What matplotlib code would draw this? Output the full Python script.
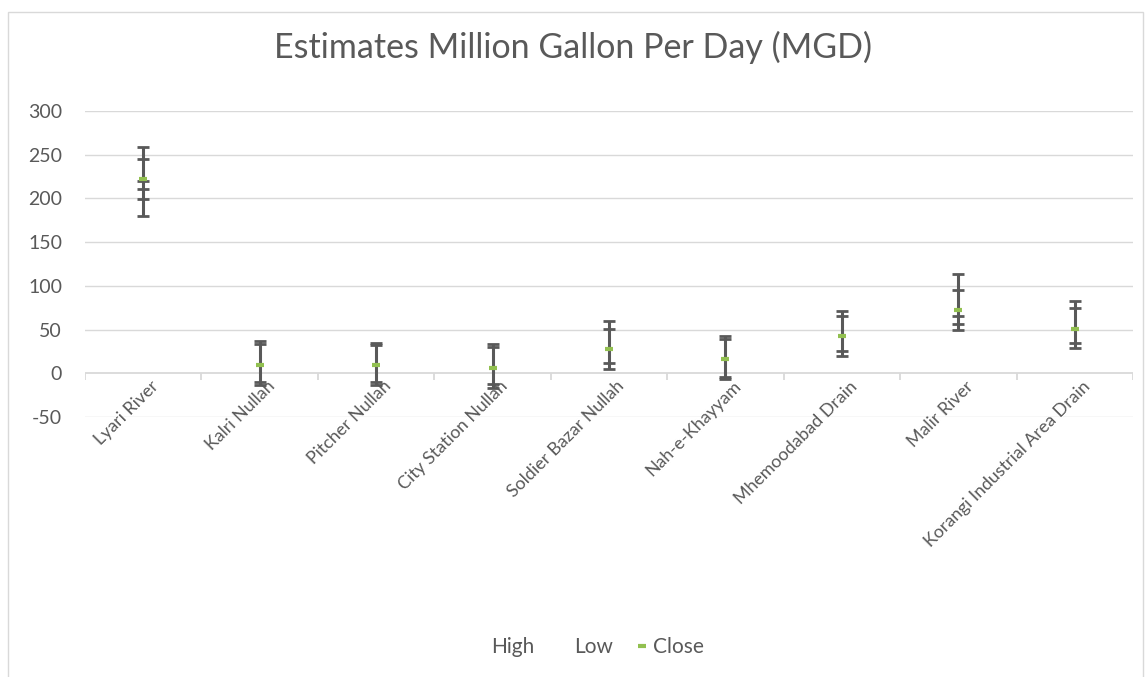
import numpy as np
import matplotlib
matplotlib.use("Agg")
import matplotlib.pyplot as plt
from matplotlib.lines import Line2D
from matplotlib.patches import Rectangle

plt.rcParams["font.family"] = ["Lato", "DejaVu Sans"]

categories = ["Lyari River", "Kalri Nullah", "Pitcher Nullah", "City Station Nullah",
              "Soldier Bazar Nullah", "Nah-e-Khayyam", "Mhemoodabad Drain",
              "Malir River", "Korangi Industrial Area Drain"]
close = [222, 10, 10, 6.5, 27.5, 16.5, 42.5, 72.5, 51]
# error-bar cap levels (high/low/close error bars)
caps = [
    [259, 245, 220, 211, 199, 180],
    [37, 33, -10, -13],
    [35, 32, -10, -13],
    [33, 29.5, -12.5, -16.5],
    [59.5, 50.5, 12, 4.5],
    [42.5, 39, -4, -6.5],
    [71.5, 65.5, 25.5, 19.5],
    [113, 95.5, 66, 56.5, 49.5],
    [82.5, 74.5, 35, 28.5],
]
yticks = [-50, 0, 50, 100, 150, 200, 250, 300]

TXT = "#595959"
GRID = "#d9d9d9"
BAR = "#595959"
GREEN = "#92C050"

fig = plt.figure(figsize=(11.47, 6.77), dpi=100)
fig.patches.append(Rectangle((8 / 1147, -0.01), 1135 / 1147, 1 - 12 / 677 + 0.01,
                             transform=fig.transFigure, fill=False,
                             edgecolor=GRID, lw=1.0))
ax = fig.add_axes([85 / 1147, 1 - 417 / 677, (1133 - 85) / 1147, (417 - 111) / 677])

x = np.arange(len(categories))
for xi, cl in zip(x, caps):
    ax.vlines(xi, min(cl), max(cl), color=BAR, lw=2.2, zorder=3)
    ax.hlines(cl, xi - 0.052, xi + 0.052, color=BAR, lw=2.0, zorder=3)
ax.plot(x, close, ls="none", marker="_", ms=5.5, mew=3, color=GREEN, zorder=4)

ax.set_xlim(-0.5, len(categories) - 0.5)
ax.set_ylim(-50, 300)
ax.set_yticks(yticks)
ax.set_yticklabels([str(t) for t in yticks], fontsize=14, color=TXT)
ax.tick_params(axis="y", length=0, pad=16.5)
ax.set_xticks([])
for s in ax.spines.values():
    s.set_visible(False)
for t in yticks:
    if t != 0:
        ax.axhline(t, color=GRID, lw=1.0, zorder=1)
ax.axhline(0, color=GRID, lw=1.3, zorder=1)
ax.vlines(np.arange(len(categories) + 1) - 0.5, -8, 0, color=GRID, lw=1.3, zorder=1)

for xi, c in zip(x, categories):
    ax.text(xi + 0.11, -12, c, rotation=45, rotation_mode="anchor",
            ha="right", va="center", fontsize=12.8, color=TXT)

fig.text(0.5, 1 - 47 / 677, "Estimates Million Gallon Per Day (MGD)",
         ha="center", va="center", fontsize=24.5, color=TXT)

handles = [Line2D([], [], ls="none"), Line2D([], [], ls="none"),
           Line2D([], [], ls="none", marker="_", ms=6, mew=3, color=GREEN)]
fig.legend(handles, ["High", "Low", "Close"], loc="center",
           bbox_to_anchor=(0.5135, 1 - 647 / 677), ncol=3, frameon=False,
           fontsize=15, labelcolor=TXT, handlelength=0.6, handletextpad=0.25,
           columnspacing=1.07)

fig.savefig("out.png", dpi=100)
